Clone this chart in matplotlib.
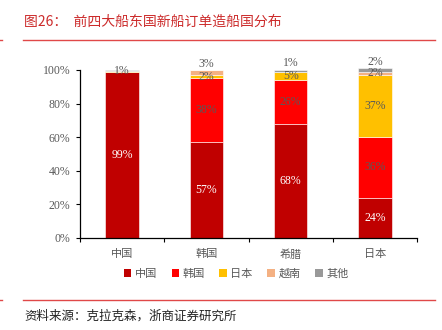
"""Stacked share chart: shipbuilding country split of new orders by owner country."""
import matplotlib

matplotlib.use("Agg")

import matplotlib.pyplot as plt  # noqa: E402
import numpy as np  # noqa: E402
from matplotlib.patches import Patch  # noqa: E402

plt.rcParams["font.family"] = ["Liberation Serif", "Noto Sans CJK SC", "DejaVu Sans"]

owners = ["中国", "韩国", "希腊", "日本"]
builders = ["中国", "韩国", "日本", "越南", "其他"]

# share (%) of each builder country, per owner country
share_china = [99, 57, 68, 24]
share_korea = [0, 38, 26, 36]
share_japan = [0.4, 2, 5, 37]
share_vietnam = [0, 3, 0, 2]
share_other = [0.6, 0, 1, 2]

colors = ["#C00000", "#FF0000", "#FFC000", "#F4B183", "#999999"]
GREY = "#595959"
RED = "#CC2B2B"

series = [share_china, share_korea, share_japan, share_vietnam, share_other]

fig = plt.figure(figsize=(4.42, 3.30), dpi=100)
ax = fig.add_axes([80 / 442, 92 / 330, 337 / 442, 168 / 330])

x = np.arange(len(owners))
bottom = np.zeros(len(owners))
for vals, col in zip(series, colors):
    vals = np.asarray(vals, dtype=float)
    ax.bar(x, vals, 0.4, bottom=bottom, color=col, edgecolor="white",
           linewidth=0.4, clip_on=False, zorder=2)
    bottom += vals

# data labels; the top small label is nudged up when the one below is small too
stack = np.array(series, dtype=float)
bottom = np.zeros(len(owners))
for k, col in enumerate(colors):
    for i, v in enumerate(stack[k]):
        if v >= 0.5:
            yc = bottom[i] + v / 2
            above = stack[k + 1:, i].sum()
            lower = [s for s in stack[:k, i] if s >= 0.5]
            below = lower[-1] if lower else 100
            dy = 6 if (above < 0.5 and v <= 5 and below <= 5) else 0
            ax.annotate(f"{v:.0f}%", (i, yc), xytext=(0, dy),
                        textcoords="offset points", ha="center", va="center",
                        fontsize=8.5,
                        color="white" if k == 0 else GREY, zorder=3)
    bottom += stack[k]

ax.set_xlim(-0.5, len(owners) - 0.5)
ax.set_ylim(0, 100)
ax.set_yticks(np.arange(0, 101, 20))
ax.set_yticklabels([f"{t}%" for t in range(0, 101, 20)], fontsize=8.5, color=GREY)
ax.set_xticks(np.arange(-0.5, len(owners)))
ax.set_xticklabels([])
ax.set_xticks(x, minor=True)
ax.set_xticklabels(owners, minor=True, fontsize=8, color=GREY)
ax.tick_params(axis="x", which="minor", length=0, pad=8)
ax.tick_params(axis="x", which="major", length=3, width=0.8, direction="out")
ax.tick_params(axis="y", length=3, width=0.8, direction="out", pad=4)
ax.spines["top"].set_visible(False)
ax.spines["right"].set_visible(False)
for s in ("left", "bottom"):
    ax.spines[s].set_linewidth(0.9)

handles = [Patch(facecolor=c, edgecolor="none") for c in colors]
fig.legend(handles, builders, loc="center", bbox_to_anchor=(236 / 442, 56 / 330),
           ncol=5, frameon=False, handlelength=0.7, handleheight=0.7,
           handletextpad=0.3, columnspacing=1.3, labelcolor=GREY,
           prop={"family": ["Noto Sans CJK SC"], "size": 8})

fig.text(24 / 442, 1 - 22 / 330, "图26：  前四大船东国新船订单造船国分布",
         color=RED, fontsize=10, va="center", ha="left",
         family=["Noto Sans CJK SC"], fontweight="light")
fig.text(24 / 442, 1 - 316 / 330, "资料来源：克拉克森，浙商证券研究所",
         color="#222222", fontsize=9, va="center", ha="left",
         family=["Noto Sans CJK SC"], fontweight="light")

for yp in (40, 300):
    fig.add_artist(plt.Line2D([23 / 442, 435 / 442], [1 - yp / 330] * 2,
                              color="#E04848", lw=1))
    fig.add_artist(plt.Line2D([0, 2 / 442], [1 - yp / 330] * 2,
                              color="#E04848", lw=1))

fig.savefig("out.png", dpi=100)
